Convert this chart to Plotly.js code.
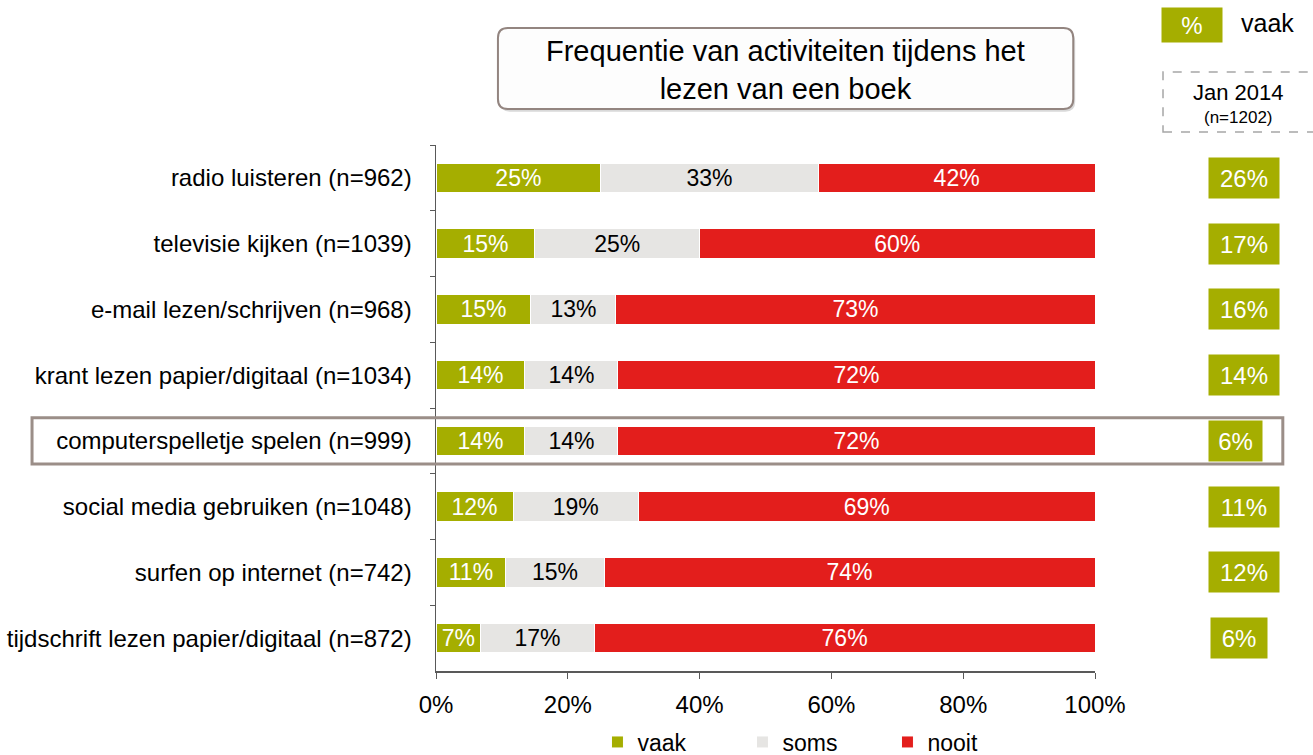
<!DOCTYPE html>
<html><head><meta charset="utf-8">
<script src="https://cdn.plot.ly/plotly-3.0.1.min.js"></script>
<style>html,body{margin:0;padding:0;background:#fff;}#chart{width:1313px;height:755px;}</style>
</head><body><div id="chart"></div>
<script>
const categories = [
  "radio luisteren (n=962)",
  "televisie kijken (n=1039)",
  "e-mail lezen/schrijven (n=968)",
  "krant lezen papier/digitaal (n=1034)",
  "computerspelletje spelen (n=999)",
  "social media gebruiken (n=1048)",
  "surfen op internet (n=742)",
  "tijdschrift lezen papier/digitaal (n=872)"
];
const vaak = [25, 15, 14.4, 13.5, 13.5, 11.7, 10.6, 6.8];
const soms = [33, 25, 12.9, 14.1, 14.1, 19.0, 14.9, 17.2];
const nooit = [42, 60, 72.7, 72.4, 72.4, 69.3, 74.5, 76.0];
const vaakLabels = ["25%","15%","15%","14%","14%","12%","11%","7%"];
const somsLabels = ["33%","25%","13%","14%","14%","19%","15%","17%"];
const nooitLabels = ["42%","60%","73%","72%","72%","69%","74%","76%"];
const jan2014 = ["26%","17%","16%","14%","6%","11%","12%","6%"];
const xTickVals = [0, 20, 40, 60, 80, 100];
const xTickText = ["0%","20%","40%","60%","80%","100%"];

const FONT = "Liberation Sans, Arial, sans-serif";
const GREEN = "#a5ae00", GRAY = "#e6e5e3", RED = "#e31e1c";

function bar(name, vals, labels, color, txtColor){
  return {type:"bar", orientation:"h", name:name, x:vals, y:categories,
    text:labels, textposition:"inside", insidetextanchor:"middle",
    textfont:{family:FONT, size:23, color:txtColor}, constraintext:"none",
    marker:{color:color, line:{color:"#ffffff", width:1}}, hoverinfo:"skip"};
}
const data = [
  bar("vaak", vaak, vaakLabels, GREEN, "#ffffff"),
  bar("soms", soms, somsLabels, GRAY, "#000000"),
  bar("nooit", nooit, nooitLabels, RED, "#ffffff")
];

const x0=0.094, x1=0.967, y0=1.0684, y1=1.2224, rx=0.015, ry=0.019;
const rpath = (a,b,c,d)=>`M ${a+rx},${d} L ${b-rx},${d} Q ${b},${d} ${b},${d-ry} L ${b},${c+ry} Q ${b},${c} ${b-rx},${c} L ${a+rx},${c} Q ${a},${c} ${a},${c+ry} L ${a},${d-ry} Q ${a},${d} ${a+rx},${d} Z`;

const boxX = [1.226,1.226,1.226,1.226,1.2125,1.226,1.226,1.2185];
const boxW = [66,66,66,66,49,66,66,52];
const annotations = [];
jan2014.forEach((v,i)=>{
  annotations.push({xref:"paper", yref:"y", x:boxX[i], y:i, text:v, showarrow:false,
    font:{family:FONT, size:24, color:"#ffffff"}, bgcolor:GREEN,
    width:boxW[i], height:36, borderpad:2, xanchor:"center", yanchor:"middle"});
});
annotations.push({xref:"paper", yref:"paper", x:0.53, y:1.1425, showarrow:false,
  text:"Frequentie van activiteiten tijdens het<br>lezen van een boek",
  font:{family:FONT, size:29, color:"#000"}, align:"center", xanchor:"center", yanchor:"middle"});
annotations.push({xref:"paper", yref:"paper", x:1.147, y:1.2275, showarrow:false, text:"%",
  font:{family:FONT, size:24, color:"#fff"}, bgcolor:GREEN, width:58, height:32, borderpad:1,
  xanchor:"center", yanchor:"middle"});
annotations.push({xref:"paper", yref:"paper", x:1.2625, y:1.232, showarrow:false, text:"vaak",
  font:{family:FONT, size:25, color:"#000"}, xanchor:"center", yanchor:"middle"});
annotations.push({xref:"paper", yref:"paper", x:1.218, y:1.1, showarrow:false, text:"Jan 2014",
  font:{family:FONT, size:22, color:"#000"}, xanchor:"center", yanchor:"middle"});
annotations.push({xref:"paper", yref:"paper", x:1.218, y:1.052, showarrow:false, text:"(n=1202)",
  font:{family:FONT, size:17, color:"#000"}, xanchor:"center", yanchor:"middle"});

const layout = {
  width:1313, height:755, margin:{l:436, r:218, t:145, b:84, pad:0, autoexpand:false},
  paper_bgcolor:"#fff", plot_bgcolor:"#fff",
  barmode:"stack", bargap:0.55,
  font:{family:FONT, color:"#000"},
  xaxis:{range:[0,100], tickmode:"array", tickvals:xTickVals, ticktext:xTickText, showgrid:false, zeroline:false,
    showline:true, linecolor:"#595959", linewidth:1.5, ticks:"outside", ticklen:6, tickcolor:"#595959",
    ticklabelstandoff:6, tickfont:{family:FONT, size:24, color:"#000"}, fixedrange:true, automargin:false},
  yaxis:{autorange:"reversed", type:"category", showgrid:false, zeroline:false, showline:true,
    linecolor:"#595959", linewidth:1.5, ticks:"outside", ticklen:5, tickcolor:"#595959", tickson:"boundaries",
    ticklabelstandoff:18, tickfont:{family:FONT, size:24, color:"#000"}, fixedrange:true, automargin:false},
  showlegend:true,
  legend:{orientation:"h", x:0.245, xanchor:"left", y:-0.135, yanchor:"middle", entrywidth:100, entrywidthmode:"pixels",
    font:{family:FONT, size:23, color:"#000"}, traceorder:"normal", itemwidth:30, bgcolor:"rgba(0,0,0,0)"},
  shapes:[
    {type:"path", xref:"paper", yref:"paper", path:rpath(x0+0.003,x1+0.003,y0-0.005,y1-0.005),
      fillcolor:"#d9d9d9", line:{width:0}, layer:"above"},
    {type:"path", xref:"paper", yref:"paper", path:rpath(x0,x1,y0,y1),
      fillcolor:"#fdfdfd", line:{color:"#938580", width:2}, layer:"above"},
    {type:"rect", xref:"paper", yref:"paper", x0:1.1032, x1:1.345, y0:1.0247, y1:1.1388,
      fillcolor:"rgba(0,0,0,0)", line:{color:"#a6a6a6", width:1.5, dash:"dash"}},
    {type:"rect", xref:"paper", yref:"y", x0:-0.613, x1:1.285, y0:3.65, y1:4.35,
      fillcolor:"rgba(0,0,0,0)", line:{color:"#9b8e88", width:3}, layer:"above"}
  ],
  annotations:annotations
};
Plotly.newPlot("chart", data, layout, {displayModeBar:false, staticPlot:true});
</script></body></html>
